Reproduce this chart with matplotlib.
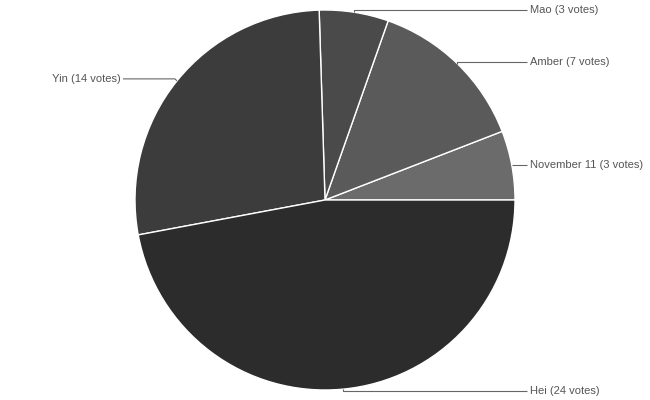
import numpy as np
import matplotlib
matplotlib.use("Agg")
import matplotlib.pyplot as plt

# data
names = ["November 11", "Amber", "Mao", "Yin", "Hei"]
votes = [3, 7, 3, 14, 24]
colors = ["#6b6b6b", "#5a5a5a", "#4a4a4a", "#3c3c3c", "#2c2c2c"]

W, H = 650, 400
cx, cy, R = 325, 200, 190

plt.rcParams['font.family'] = ['Liberation Sans', 'DejaVu Sans']

fig = plt.figure(figsize=(6.5, 4), dpi=100)
ax = fig.add_axes([0, 0, 1, 1])
ax.set_xlim(0, W)
ax.set_ylim(0, H)
ax.set_aspect('equal')
ax.axis('off')

wedges, _ = ax.pie(votes, colors=colors, startangle=0, counterclock=True,
                   center=(cx, H - cy), radius=R,
                   wedgeprops=dict(edgecolor='white', linewidth=1.0))
ax.set_xlim(0, W)
ax.set_ylim(0, H)

for w, name, v in zip(wedges, names, votes):
    mid = np.deg2rad((w.theta1 + w.theta2) / 2)
    px = cx + R * np.cos(mid)
    py = (H - cy) + R * np.sin(mid)
    ly = py + 2 * np.sign(np.sin(mid)) if abs(np.sin(mid)) > 0.3 else py
    label = "%s (%d votes)" % (name, v)
    if np.cos(mid) >= 0:
        ax.plot([px, px, 527], [py, ly, ly], color='#666666', lw=0.8,
                solid_capstyle='butt')
        ax.text(530, ly, label, ha='left', va='center', fontsize=8,
                color='#555555')
    else:
        ax.plot([px, px - 2, 123], [py, ly, ly], color='#666666', lw=0.8,
                solid_capstyle='butt')
        ax.text(121, ly, label, ha='right', va='center', fontsize=8,
                color='#555555')

fig.savefig("out.png", dpi=100)
